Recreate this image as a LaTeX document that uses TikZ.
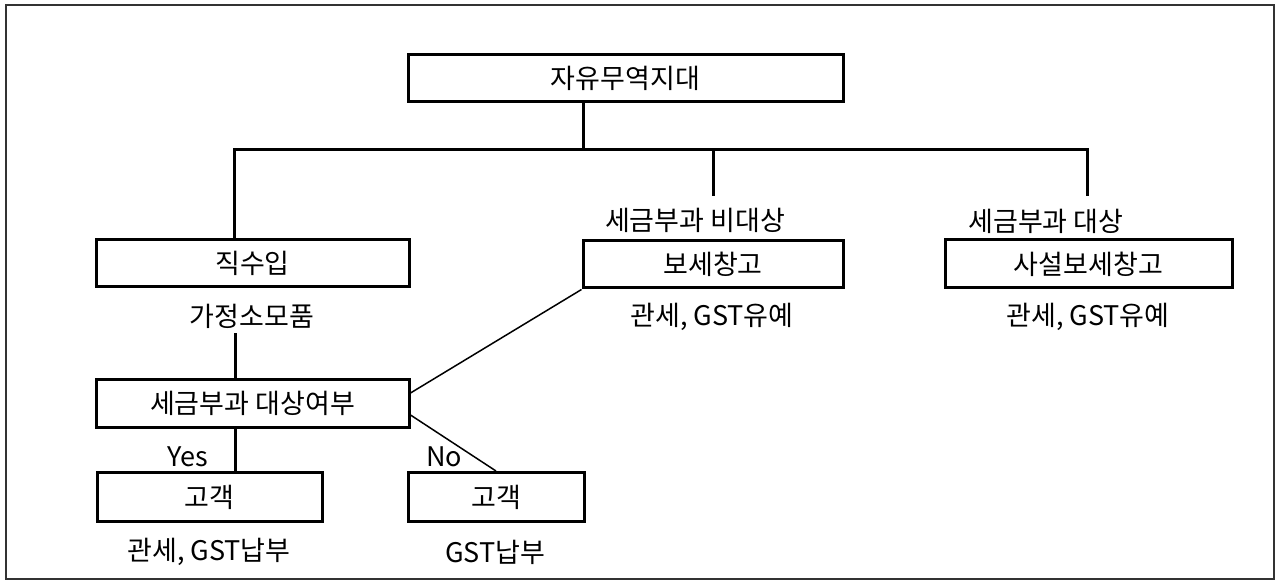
\documentclass[tikz,border=0pt]{standalone}
\usepackage{fontspec}
\setmainfont{Noto Sans CJK KR}
\begin{document}
\begin{tikzpicture}[x=1pt,y=-1pt,
  box/.style={draw=black,line width=3pt,minimum height=47pt,inner sep=0pt,font=\fontsize{27}{30}\selectfont},
  lbl/.style={inner sep=0pt,font=\fontsize{27}{30}\selectfont},
  thick line/.style={line width=3pt,black},
  thin line/.style={line width=1.5pt,black}]
\useasboundingbox (0,0) rectangle (1275,580);
\draw[line width=2pt,black!80] (6,5) rectangle (1273.5,578.5);
% boxes
\node[box,minimum width=435pt] (top) at (625.5,78.5) {자유무역지대};
\node[box,minimum width=313pt] (jik) at (252.5,263.5) {직수입};
\node[box,minimum width=260pt] (bonded) at (713,264.5) {보세창고};
\node[box,minimum width=287pt,minimum height=48pt] (private) at (1088.5,264) {사설보세창고};
\node[box,minimum width=313pt,minimum height=48pt] (check) at (252.5,403) {세금부과 대상여부};
\node[box,minimum width=225pt,minimum height=49pt] (cust1) at (209.5,497) {고객};
\node[box,minimum width=176pt,minimum height=49pt] (cust2) at (496,497) {고객};
% labels
\node[lbl] (tagM) at (695,220) {세금부과 비대상};
\node[lbl] (tagR) at (1046,221) {세금부과 대상};
\node[lbl] (ga) at (252,316) {가정소모품};
\node[lbl] (dutyM) at (712,317) {관세, GST유예};
\node[lbl] (dutyR) at (1088,317) {관세, GST유예};
\node[lbl] (yes) at (188,457) {Yes};
\node[lbl] (no) at (444,457) {No};
\node[lbl] (pay1) at (209,552) {관세, GST납부};
\node[lbl] (pay2) at (495,552) {GST납부};
% connectors
\coordinate (busT) at (583,150);
\coordinate (busL) at (234,150);
\coordinate (busM) at (713,150);
\coordinate (busR) at (1087,150);
\coordinate (dropM) at (713,196);
\coordinate (dropR) at (1087,196);
\coordinate (stemx) at (235,0);
\coordinate (gs) at (235,333);
\draw[thick line] (top.south -| busT) -- (busT);
\draw[thick line,line cap=rect] (busL) -- (busR);
\draw[thick line] (busL) -- (jik.north -| busL);
\draw[thick line] (busM) -- (dropM);
\draw[thick line] (busR) -- (dropR);
\draw[thick line] (gs) -- (check.north -| stemx);
\draw[thick line] (check.south -| stemx) -- (cust1.north -| stemx);
\draw[thin line] ([yshift=10pt]check.east) -- (bonded.south west);
\draw[thin line] ([yshift=-12pt]check.east) -- (cust2.north);
\end{tikzpicture}
\end{document}
